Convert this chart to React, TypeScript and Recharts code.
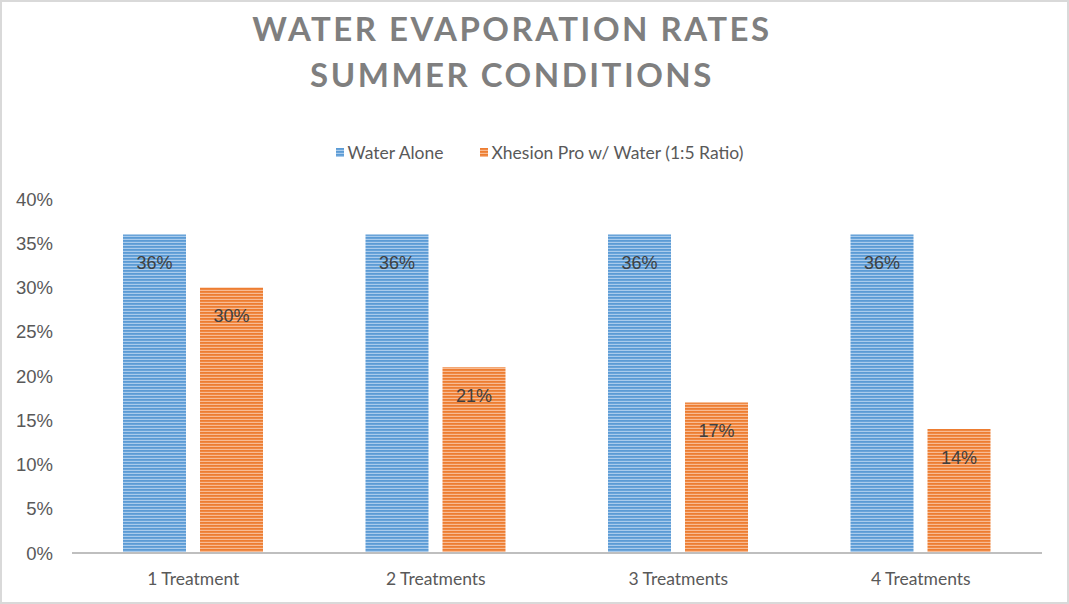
import React from 'react';
import { BarChart, Bar, XAxis, YAxis, LabelList } from 'recharts';

const categories = ['1 Treatment', '2 Treatments', '3 Treatments', '4 Treatments'];
const waterAlone = [0.36, 0.36, 0.36, 0.36];
const xhesionPro = [0.3, 0.21, 0.17, 0.14];
const yTicks = [0, 0.05, 0.1, 0.15, 0.2, 0.25, 0.3, 0.35, 0.4];

const data = categories.map((name, i) => ({
  name,
  water: waterAlone[i],
  xhesion: xhesionPro[i],
}));

const pct = (v: number) => `${Math.round(v * 100)}%`;

const textGray = '#595959';
const arial = '"Liberation Sans", Arial, sans-serif';

export default function App() {
  return (
    <div
      style={{
        position: 'absolute',
        left: 0,
        top: 0,
        width: 1069,
        height: 604,
        boxSizing: 'border-box',
        border: '2px solid #d9d9d9',
        background: '#fff',
        overflow: 'hidden',
      }}
    >
      {/* stripe fills for the bars */}
      <svg width={0} height={0} style={{ position: 'absolute' }}>
        <defs>
          <pattern id="stripeBlue" patternUnits="userSpaceOnUse" width={6} height={3}>
            <rect width={6} height={3} fill="#a9cbec" />
            <rect width={6} height={1.8} fill="#5b9bd5" />
          </pattern>
          <pattern id="stripeOrange" patternUnits="userSpaceOnUse" width={6} height={3}>
            <rect width={6} height={3} fill="#f8bb93" />
            <rect width={6} height={1.8} fill="#ed7d31" />
          </pattern>
        </defs>
      </svg>

      <div
        style={{
          position: 'absolute',
          left: 0,
          top: 3,
          width: 1020,
          textAlign: 'center',
          fontFamily: 'Lato, sans-serif',
          fontWeight: 700,
          fontSize: 33,
          letterSpacing: 2.5,
          lineHeight: '46px',
          color: '#7f7f7f',
        }}
      >
        <div>WATER EVAPORATION RATES</div>
        <div>SUMMER CONDITIONS</div>
      </div>

      {/* legend */}
      <div
        style={{
          position: 'absolute',
          left: 0,
          top: 140,
          width: 1075,
          display: 'flex',
          justifyContent: 'center',
          gap: 36,
          fontFamily: 'Lato, sans-serif',
          fontSize: 17.5,
          color: textGray,
        }}
      >
        {[
          { fill: 'url(#stripeBlue)', label: 'Water Alone' },
          { fill: 'url(#stripeOrange)', label: 'Xhesion Pro w/ Water (1:5 Ratio)' },
        ].map(item => (
          <div key={item.label} style={{ display: 'flex', alignItems: 'center', gap: 4 }}>
            <svg width={8} height={9}>
              <rect width={8} height={9} fill={item.fill} />
            </svg>
            <span>{item.label}</span>
          </div>
        ))}
      </div>

      <div style={{ position: 'absolute', left: -2, top: -2 }}>
        <BarChart
          width={1069}
          height={604}
          data={data}
          margin={{ top: 199, right: 27, bottom: 21, left: 0 }}
          barCategoryGap={51}
          barGap={14}
        >
          <XAxis
            dataKey="name"
            tickLine={false}
            axisLine={{ stroke: '#bfbfbf', strokeWidth: 2 }}
            tick={{ fill: textGray, fontSize: 17.5, fontFamily: 'Lato, sans-serif' }}
            tickMargin={14}
            height={30}
          />
          <YAxis
            domain={[0, 0.4]}
            ticks={yTicks}
            tickFormatter={pct}
            axisLine={false}
            tickLine={false}
            tickSize={8}
            tickMargin={11}
            width={72}
            tick={{ fill: textGray, fontSize: 18.5, fontFamily: arial }}
          />
          <Bar dataKey="water" fill="url(#stripeBlue)" isAnimationActive={false}>
            <LabelList
              dataKey="water"
              position="insideTop"
              offset={22}
              formatter={(v: number) => pct(v)}
              style={{ fill: '#404040', fontSize: 18, fontFamily: arial }}
            />
          </Bar>
          <Bar dataKey="xhesion" fill="url(#stripeOrange)" isAnimationActive={false}>
            <LabelList
              dataKey="xhesion"
              position="insideTop"
              offset={22}
              formatter={(v: number) => pct(v)}
              style={{ fill: '#404040', fontSize: 18, fontFamily: arial }}
            />
          </Bar>
        </BarChart>
      </div>
    </div>
  );
}
